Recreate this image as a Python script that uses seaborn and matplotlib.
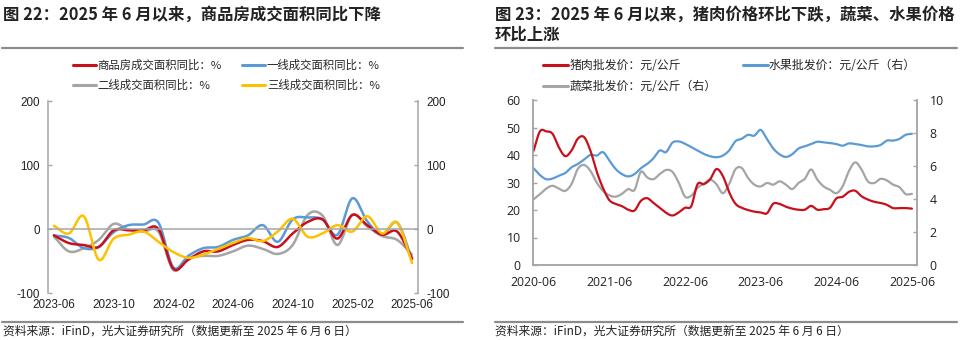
import numpy as np
import pandas as pd
import matplotlib
matplotlib.use("Agg")
import matplotlib.pyplot as plt
import seaborn as sns
from matplotlib.lines import Line2D
from matplotlib.transforms import blended_transform_factory

sns.set_theme(style="white")
plt.rcParams["font.family"] = ["Noto Sans CJK SC", "DejaVu Sans"]
plt.rcParams["axes.unicode_minus"] = False

# ---------------- 图22: monthly YoY of transaction area, 2023-06 .. 2025-06 ----------------
area_months = pd.period_range("2023-06", "2025-06", freq="M").strftime("%Y-%m").tolist()
total_yoy = [-10, -22, -25, -28, -2, -2, -2, 0, -62, -48, -35, -35, -25,
             -17, -19, -28, -7, 11, 15, -15, 22, 6, -9, -4, -46]
tier1_yoy = [-10, -14, -30, -28, -5, 6, 7, 10, -60, -42, -30, -28, -17,
             -10, 6, -20, 15, 18, 15, -9, 48, 12, -9, 10, -47]
tier2_yoy = [-12, -35, -30, -17, 8, -1, -4, -4, -64, -46, -42, -42, -35,
             -26, -31, -39, -25, 22, 21, -25, 22, 4, -11, -17, -40]
tier3_yoy = [5, -7, 20, -48, -15, -9, -4, -20, -36, -45, -40, -31, -22,
             -14, -19, -4, 16, -12, -7, 6, -4, 20, -7, 10, -53]
area_names = ["商品房成交面积同比：%", "一线成交面积同比：%",
              "二线成交面积同比：%", "三线成交面积同比：%"]
area_xlabels = ["2023-06", "2023-10", "2024-02", "2024-06", "2024-10", "2025-02", "2025-06"]
area_yticks = [-100, 0, 100, 200]

# ---------------- 图23: monthly wholesale prices, 2020-06 .. 2025-06 ----------------
price_months = pd.period_range("2020-06", "2025-06", freq="M").strftime("%Y-%m").tolist()
pork = [41.6, 48.6, 48.6, 47.7, 42.8, 39.6, 41.6, 45.9, 46.5, 41.6, 34.0, 28.0, 23.6,
        22.2, 21.4, 20.1, 19.8, 23.3, 24.3, 22.6, 20.8, 19.0, 18.0, 19.1, 20.8, 21.4,
        29.4, 29.4, 31.2, 34.9, 32.4, 26.5, 22.3, 20.8, 20.0, 19.4, 19.1, 18.8, 22.3,
        22.2, 21.2, 20.5, 20.1, 20.1, 21.5, 20.1, 20.3, 20.8, 24.2, 24.8, 26.6, 27.0,
        25.0, 23.8, 23.0, 22.6, 21.9, 20.7, 20.7, 20.7, 20.5]
fruit = [5.86, 5.45, 5.20, 5.24, 5.41, 5.57, 5.92, 6.12, 6.39, 6.67, 6.63, 6.84, 6.33,
         5.82, 5.51, 5.37, 5.51, 5.86, 6.12, 6.47, 6.94, 6.84, 7.41, 7.49, 7.35, 7.14,
         6.94, 6.73, 6.59, 6.53, 6.63, 6.94, 7.50, 7.65, 7.89, 7.84, 8.19, 7.64, 7.06,
         6.71, 6.55, 6.71, 7.06, 7.19, 7.33, 7.47, 7.43, 7.39, 7.33, 7.23, 7.37, 7.33,
         7.27, 7.19, 7.19, 7.27, 7.54, 7.54, 7.64, 7.89, 7.95]
veg = [3.98, 4.29, 4.63, 4.80, 4.63, 4.49, 4.90, 5.82, 6.06, 5.71, 5.00, 4.49, 4.22,
       4.14, 4.31, 4.60, 4.55, 5.65, 5.31, 5.20, 5.51, 5.76, 5.65, 5.00, 4.15, 4.20,
       4.68, 4.93, 5.17, 4.89, 4.35, 4.90, 5.80, 5.88, 5.28, 4.87, 4.76, 4.97, 4.87,
       5.07, 4.87, 4.60, 4.97, 5.22, 5.79, 5.17, 4.76, 4.56, 4.35, 4.76, 5.69, 6.22,
       5.79, 5.07, 4.97, 5.22, 5.13, 4.87, 4.72, 4.30, 4.31]
price_names = ["猪肉批发价：元/公斤", "水果批发价：元/公斤（右）", "蔬菜批发价：元/公斤（右）"]
price_xlabels = ["2020-06", "2021-06", "2022-06", "2023-06", "2024-06", "2025-06"]
price_yticks_left = [0, 10, 20, 30, 40, 50, 60]
price_yticks_right = [0, 2, 4, 6, 8, 10]

RED, BLUE, GREY, YELLOW = "#C8101C", "#5B9BD5", "#A5A5A5", "#FFC000"
AXIS = "#A6A6A6"
RULE = "#8C8C8C"


def smooth_curve(y, n=16):
    """Smoothed (Catmull-Rom) path through every monthly value, drawn like a smoothed line chart."""
    y = np.asarray(y, float)
    x = np.arange(len(y), dtype=float)
    px = np.concatenate([[2 * x[0] - x[1]], x, [2 * x[-1] - x[-2]]])
    py = np.concatenate([[2 * y[0] - y[1]], y, [2 * y[-1] - y[-2]]])
    t = np.linspace(0, 1, n, endpoint=False)
    xs, ys = [], []
    for i in range(1, len(px) - 2):
        for arr, out in ((px, xs), (py, ys)):
            p0, p1, p2, p3 = arr[i - 1], arr[i], arr[i + 1], arr[i + 2]
            out.append(0.5 * (2 * p1 + (-p0 + p2) * t
                              + (2 * p0 - 5 * p1 + 4 * p2 - p3) * t ** 2
                              + (-p0 + 3 * p1 - 3 * p2 + p3) * t ** 3))
    xs.append([x[-1]])
    ys.append([y[-1]])
    return np.concatenate(xs), np.concatenate(ys)


def long_frame(series, names):
    parts = []
    for vals, name in zip(series, names):
        sx, sy = smooth_curve(vals)
        parts.append(pd.DataFrame({"month": sx, "value": sy, "series": name}))
    return pd.concat(parts, ignore_index=True)


W, H = 960, 340
fig = plt.figure(figsize=(W / 100, H / 100), dpi=100)


def box(x0, y0, x1, y1):
    return [x0 / W, 1 - y1 / H, (x1 - x0) / W, (y1 - y0) / H]


def hrule(x0, x1, y):
    fig.add_artist(Line2D([x0 / W, x1 / W], [1 - y / H, 1 - y / H],
                          color=RULE, lw=1.6, transform=fig.transFigure))


# ================= left panel =================
fig.text(3 / W, 1 - 15 / H, "图 22：2025 年 6 月以来，商品房成交面积同比下降",
         fontsize=11.8, fontweight="bold", color="#222222", va="center", ha="left")
hrule(2, 463, 48)
hrule(2, 463, 322)
fig.text(3 / W, 1 - 331 / H, "资料来源：iFinD，光大证券研究所（数据更新至 2025 年 6 月 6 日）",
         fontsize=8.5, color="#222222", va="center", ha="left")

axL = fig.add_axes(box(48, 101, 418, 293))
df_area = long_frame([tier2_yoy, tier1_yoy, total_yoy, tier3_yoy],
                     [area_names[2], area_names[1], area_names[0], area_names[3]])
sns.lineplot(data=df_area, x="month", y="value", hue="series",
             palette={area_names[0]: RED, area_names[1]: BLUE,
                      area_names[2]: GREY, area_names[3]: YELLOW},
             sort=False, estimator=None, lw=1.8, ax=axL, legend=False)
axL.set_xlim(-0.4, len(area_months) - 0.6)
axL.set_ylim(-100, 200)
axL.set_xlabel("")
axL.set_ylabel("")
axL.set_yticks(area_yticks)
axL.set_yticklabels([str(v) for v in area_yticks])
axL.set_xticks(np.arange(3.5, len(area_months), 4))
axL.tick_params(axis="x", direction="out", length=3, color=AXIS, width=1, labelbottom=False)
axL.tick_params(axis="y", direction="in", length=3, color=AXIS, width=1,
                left=True, right=True, labelleft=True, labelright=True,
                labelsize=8.4, labelcolor="#222222", pad=6)
for lab in axL.get_yticklabels():
    lab.set_family(["Liberation Sans", "DejaVu Sans"])
axL.spines["top"].set_visible(False)
axL.spines["bottom"].set_position(("data", 0))
for s in ("left", "right", "bottom"):
    axL.spines[s].set_color(AXIS)
    axL.spines[s].set_linewidth(1.1)
trL = blended_transform_factory(axL.transData, axL.transAxes)
for lab in area_xlabels:
    axL.text(area_months.index(lab), -0.0625, lab, transform=trL, ha="center", va="center",
             fontsize=8.4, color="#222222", family=["Liberation Sans", "DejaVu Sans"])

area_handles = [Line2D([], [], color=c, lw=2.2) for c in (RED, GREY, BLUE, YELLOW)]
axL.legend(area_handles, [area_names[0], area_names[2], area_names[1], area_names[3]],
           ncol=2, loc="upper left", bbox_to_anchor=(73 / W, 1 - 60 / H),
           bbox_transform=fig.transFigure, frameon=False, fontsize=8.2,
           handlelength=2.0, handletextpad=0.15, columnspacing=1.8,
           labelspacing=0.75, borderpad=0, borderaxespad=0)

# ================= right panel =================
fig.text(495 / W, 1 - 15 / H, "图 23：2025 年 6 月以来，猪肉价格环比下跌，蔬菜、水果价格",
         fontsize=11.8, fontweight="bold", color="#222222", va="center", ha="left")
fig.text(495 / W, 1 - 35 / H, "环比上涨",
         fontsize=11.8, fontweight="bold", color="#222222", va="center", ha="left")
hrule(495, 957, 48)
hrule(495, 957, 322)
fig.text(495 / W, 1 - 331 / H, "资料来源：iFinD，光大证券研究所（数据更新至 2025 年 6 月 6 日）",
         fontsize=8.5, color="#222222", va="center", ha="left")

axR = fig.add_axes(box(533, 100, 917, 265))
axR2 = axR.twinx()
df_right = long_frame([veg, fruit], [price_names[2], price_names[1]])
sns.lineplot(data=df_right, x="month", y="value", hue="series",
             palette={price_names[1]: BLUE, price_names[2]: GREY},
             sort=False, estimator=None, lw=1.6, ax=axR2, legend=False)
df_pork = long_frame([pork], [price_names[0]])
sns.lineplot(data=df_pork, x="month", y="value", color=RED,
             sort=False, estimator=None, lw=1.6, ax=axR, legend=False)
axR.set_zorder(axR2.get_zorder() + 1)
axR.patch.set_visible(False)

axR.set_xlim(-0.1, len(price_months) - 0.2)
axR.set_ylim(0, 60)
axR2.set_ylim(0, 10)
axR.set_yticks(price_yticks_left)
axR2.set_yticks(price_yticks_right)
axR.set_xticks([price_months.index(l) for l in price_xlabels])
axR.set_xticklabels(price_xlabels)
for a in (axR, axR2):
    a.set_xlabel("")
    a.set_ylabel("")
    for s in a.spines.values():
        s.set_color(AXIS)
        s.set_linewidth(1.1)
    a.spines["top"].set_visible(False)
axR.tick_params(axis="x", direction="out", length=4, color=AXIS, width=1,
                labelsize=8.8, labelcolor="#222222", pad=4)
axR.tick_params(axis="y", direction="in", length=3, color=AXIS, width=1,
                labelsize=8.8, labelcolor="#222222", pad=9)
axR2.tick_params(axis="y", direction="in", length=3, color=AXIS, width=1,
                 labelsize=8.8, labelcolor="#222222", pad=9)
for a in (axR, axR2):
    for lab in a.get_xticklabels() + a.get_yticklabels():
        lab.set_family(["Open Sans", "DejaVu Sans"])

price_handles = [Line2D([], [], color=c, lw=2.2) for c in (RED, GREY, BLUE)]
axR.legend(price_handles, [price_names[0], price_names[2], price_names[1]],
           ncol=2, loc="upper left", bbox_to_anchor=(543 / W, 1 - 59 / H),
           bbox_transform=fig.transFigure, frameon=False, fontsize=8.6,
           handlelength=2.1, handletextpad=0.1, columnspacing=2.2,
           labelspacing=0.7, borderpad=0, borderaxespad=0)

fig.savefig("out.png", dpi=100)
